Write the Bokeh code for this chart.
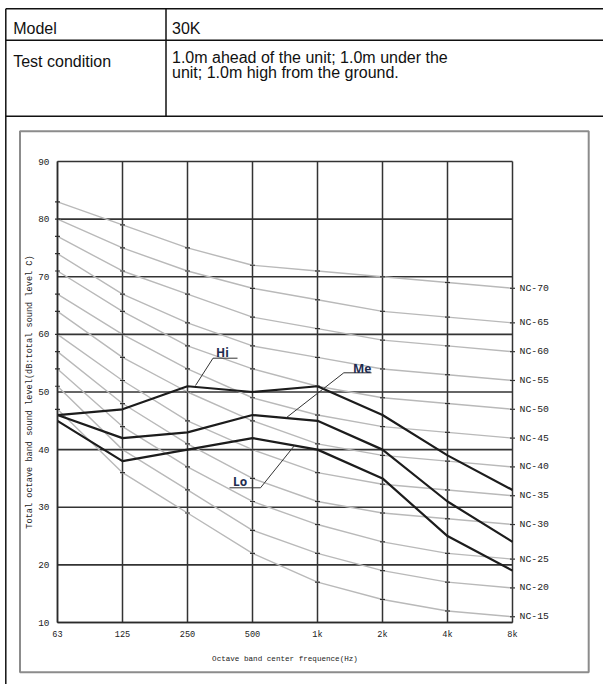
from bokeh.plotting import figure
from bokeh.models import LinearAxis, FixedTicker, Range1d
from bokeh.core.properties import value
from bokeh.embed import file_html
from bokeh.resources import INLINE

# ---------------- data ----------------
freqs = ["63", "125", "250", "500", "1k", "2k", "4k", "8k"]
hi = [46, 47, 51, 50, 51, 46, 39, 33]
me = [46, 42, 43, 46, 45, 40, 31, 24]
lo = [45, 38, 40, 42, 40, 35, 25, 19]

nc15 = [47, 36, 29, 22, 17, 14, 12, 11]
nc20 = [51, 40, 33, 26, 22, 19, 17, 16]
nc25 = [54, 44, 37, 31, 27, 24, 22, 21]
nc30 = [57, 48, 41, 35, 31, 29, 28, 27]
nc35 = [60, 52, 45, 40, 36, 34, 33, 32]
nc40 = [64, 56, 50, 45, 41, 39, 38, 37]
nc45 = [67, 60, 54, 49, 46, 44, 43, 42]
nc50 = [71, 64, 58, 54, 51, 49, 48, 47]
nc55 = [74, 67, 62, 58, 56, 54, 53, 52]
nc60 = [77, 71, 67, 63, 61, 59, 58, 57]
nc65 = [80, 75, 71, 68, 66, 64, 63, 62]
nc70 = [83, 79, 75, 72, 71, 70, 69, 68]
nc_names = ["NC-15", "NC-20", "NC-25", "NC-30", "NC-35", "NC-40",
            "NC-45", "NC-50", "NC-55", "NC-60", "NC-65", "NC-70"]
nc_curves = [nc15, nc20, nc25, nc30, nc35, nc40, nc45, nc50, nc55, nc60, nc65, nc70]
y_ticks = [10, 20, 30, 40, 50, 60, 70, 80, 90]
series_names = ["Hi", "Me", "Lo"]

row_heads = ["Model", "Test condition"]
row_values = ["30K",
              "1.0m ahead of  the unit; 1.0m under the",
              "unit; 1.0m high from the ground."]

# ---------------- geometry (page px) ----------------
PW, PH = 603, 684
FRAME_L, FRAME_R, FRAME_T, FRAME_B = 57, 512, 161, 622
X0, X1, Y0, Y1 = 0, len(freqs) - 1, y_ticks[0], y_ticks[-1]
sx = (FRAME_R - FRAME_L) / (X1 - X0)
sy = (FRAME_B - FRAME_T) / (Y1 - Y0)

p = figure(width=PW, height=PH,
           x_range=Range1d(X0 - FRAME_L / sx, X1 + (PW - FRAME_R) / sx),
           y_range=Range1d(Y0 - (PH - FRAME_B) / sy, Y1 + FRAME_T / sy),
           x_axis_type=None, y_axis_type=None, min_border=0,
           output_backend="svg", toolbar_location=None,
           outline_line_color=None, background_fill_color="white",
           border_fill_color="white")
p.extra_x_ranges = {"px": Range1d(0, PW)}
p.extra_y_ranges = {"px": Range1d(PH, 0)}
PXR = dict(x_range_name="px", y_range_name="px")

# ---------- table + chart box (page-pixel decorations) ----------
BORDER, BOX = "#111111", "#8c8c8c"
LEFT_X = 5.3
p.segment(x0=[LEFT_X, LEFT_X, LEFT_X, LEFT_X, 165.5],
          y0=[8.2, 39.8, 115.8, 8.2, 8.2],
          x1=[PW, PW, PW, LEFT_X, 165.5],
          y1=[8.2, 39.8, 115.8, PH, 115.8],
          line_color=BORDER, line_width=1.5, **PXR)
p.quad(left=[19.5], right=[588.2], top=[130.8], bottom=[671.8],
       fill_color=None, line_color=BOX, line_width=2, **PXR)

TXT_SHIFT = 5.5
p.text(x=[12.7, 12.7], y=[33.0 - TXT_SHIFT, 66.5 - TXT_SHIFT], text=row_heads,
       text_font=value("Liberation Sans"), text_font_size="16px", text_color="#111111",
       text_baseline="alphabetic", **PXR)
p.text(x=[171.5, 171.5, 171.5], y=[33.0 - TXT_SHIFT, 62.0 - TXT_SHIFT, 77.5 - TXT_SHIFT],
       text=row_values, text_font=value("Liberation Sans"), text_font_size="16px",
       text_color="#111111", text_baseline="alphabetic", **PXR)

# ---------- chart ----------
xs = list(range(len(freqs)))
tick_font = "Liberation Mono"
LBL = "#222222"

# grid (also forms the plot-area border)
p.segment(x0=xs, y0=[Y0] * len(xs), x1=xs, y1=[Y1] * len(xs),
          line_color="#333333", line_width=1.5)
p.segment(x0=[X0] * len(y_ticks), y0=y_ticks, x1=[X1] * len(y_ticks), y1=y_ticks,
          line_color="#333333", line_width=1.6)

xax = LinearAxis(ticker=FixedTicker(ticks=xs), fixed_location=Y0, bounds=(X0, X1),
                 major_label_overrides={i: f for i, f in enumerate(freqs)},
                 axis_label="Octave band center frequence(Hz)",
                 major_label_standoff=7, axis_label_standoff=12)
yax = LinearAxis(ticker=FixedTicker(ticks=y_ticks), fixed_location=X0, bounds=(Y0, Y1),
                 axis_label="Total octave band sound level(dB:total sound level C)",
                 major_label_standoff=8, axis_label_standoff=0)
nc_ends = [c[-1] for c in nc_curves]
rax = LinearAxis(ticker=FixedTicker(ticks=nc_ends), fixed_location=X1, bounds=(Y0, Y1),
                 major_label_overrides={v: n for v, n in zip(nc_ends, nc_names)},
                 major_label_standoff=7)
for ax, tsize, lsize in ((xax, "8.6px", "7.6px"), (yax, "9.4px", "8.6px"),
                         (rax, "9.8px", "8px")):
    ax.axis_line_color = "#2a2a2a"
    ax.axis_line_width = 1.5
    ax.major_tick_in = 0
    ax.major_tick_out = 0
    ax.minor_tick_in = 0
    ax.minor_tick_out = 0
    ax.major_label_text_font = tick_font
    ax.major_label_text_font_size = tsize
    ax.major_label_text_color = LBL
    ax.axis_label_text_font = tick_font
    ax.axis_label_text_font_size = lsize
    ax.axis_label_text_font_style = "normal"
    ax.axis_label_text_color = LBL
rax.axis_line_color = None
p.add_layout(xax, "below")
p.add_layout(yax, "left")
p.add_layout(rax, "right")

for c in nc_curves:
    p.line(xs, c, line_color="#b9b9b9", line_width=1.4)
for c in nc_curves:
    p.scatter(xs, c, marker="dash", size=5, line_color="#333333", line_width=1.2)

for s in (hi, me, lo):
    p.line(xs, s, line_color="#1c1c1c", line_width=2.2)

# leader lines and series labels (positions in page px)
leader_x = [[195, 212.5, 237], [285.7, 343.3, 371], [294, 260, 229]]
leader_y = [[385, 357.7, 357.7], [417.3, 372.3, 372.3], [445, 487.3, 487.3]]
label_xy = [(215.5, 354), (352.5, 370.5), (232.5, 483)]
p.multi_line(xs=leader_x, ys=leader_y, line_color="#333333", line_width=1, **PXR)
p.text(x=[a for a, _ in label_xy], y=[b - 2.5 for _, b in label_xy], text=series_names,
       text_font=value("Noto Sans"), text_font_style="bold", text_font_size="12px",
       text_color="#1f2d50", text_baseline="alphabetic", **PXR)

open("out.html", "w").write(file_html(p, INLINE))
